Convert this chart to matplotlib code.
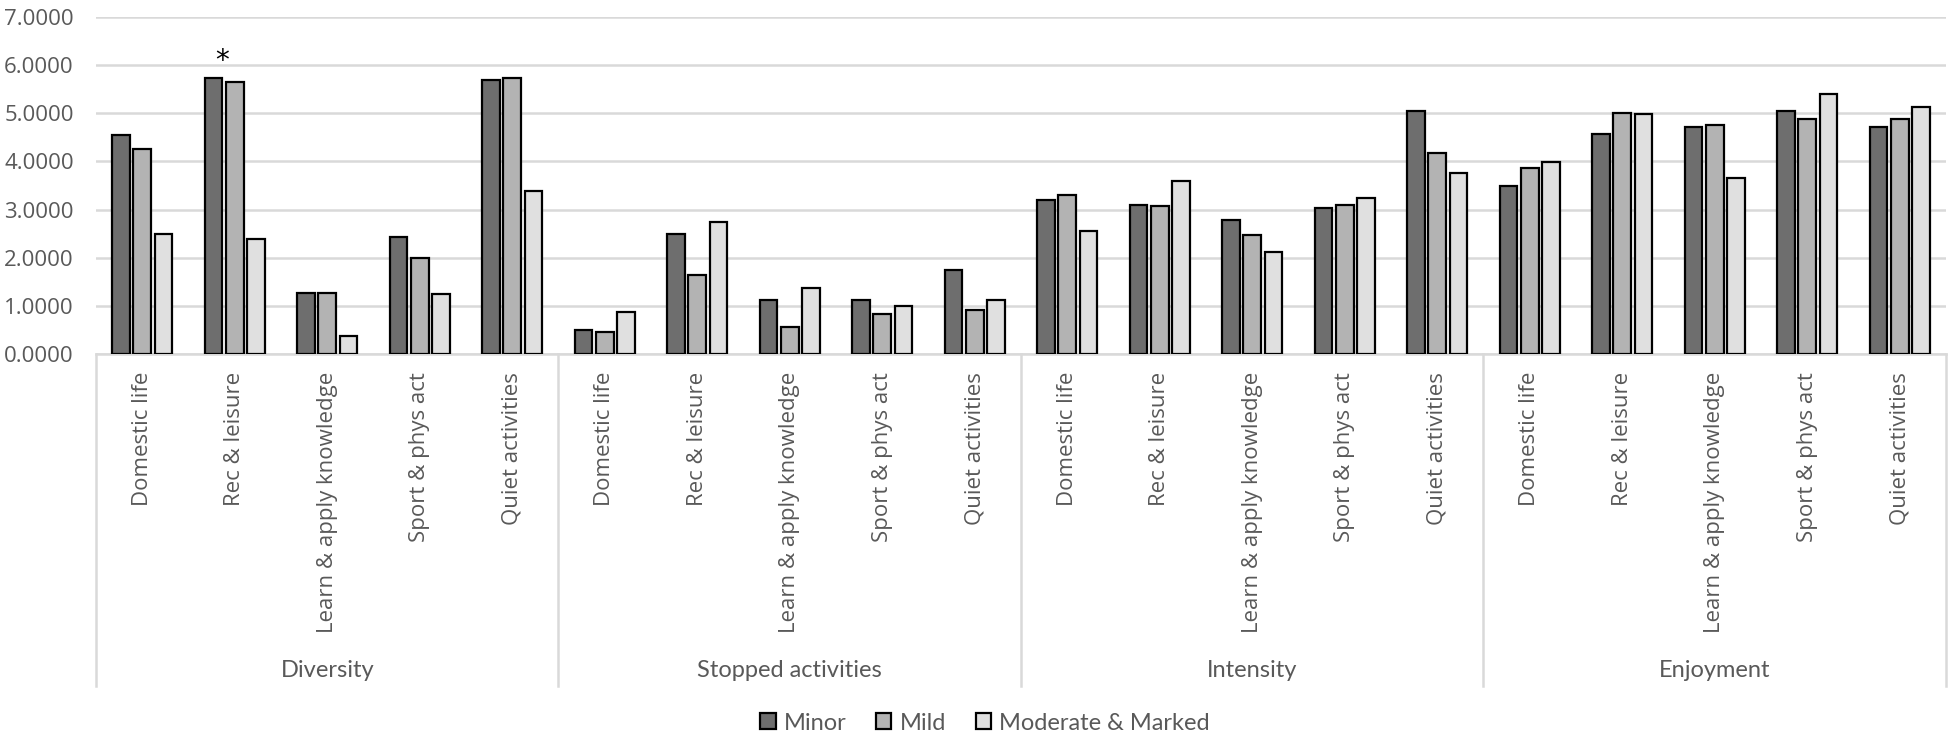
"""Grouped bar chart: activity domains by severity group (Minor / Mild / Moderate & Marked)."""

import matplotlib

matplotlib.use("Agg")
import matplotlib.pyplot as plt
import matplotlib.patches as mpatches
import matplotlib.transforms as mtransforms
import numpy as np

CATEGORIES = [
    "Domestic life",
    "Rec & leisure",
    "Learn & apply knowledge",
    "Sport & phys act",
    "Quiet activities",
]
GROUPS = ["Diversity", "Stopped activities", "Intensity", "Enjoyment"]
SERIES = ["Minor", "Mild", "Moderate & Marked"]

# values per category, groups laid out one after another
MINOR = [4.54, 5.73, 1.26, 2.43, 5.69,
         0.49, 2.50, 1.12, 1.12, 1.75,
         3.19, 3.10, 2.79, 3.04, 5.05,
         3.49, 4.58, 4.72, 5.04, 4.72]
MILD = [4.25, 5.64, 1.27, 2.00, 5.74,
        0.45, 1.65, 0.57, 0.83, 0.92,
        3.30, 3.08, 2.47, 3.10, 4.18,
        3.87, 5.01, 4.76, 4.89, 4.89]
MODERATE = [2.50, 2.38, 0.38, 1.25, 3.38,
            0.87, 2.74, 1.37, 0.99, 1.12,
            2.55, 3.59, 2.12, 3.24, 3.75,
            3.98, 4.99, 3.66, 5.40, 5.13]

Y_TICKS = [0, 1, 2, 3, 4, 5, 6, 7]
STAR_CATEGORY = 1  # Diversity / Rec & leisure

COLORS = ["#6e6e6e", "#b3b3b3", "#e0e0e0"]
TEXT_GREY = "#595959"
LINE_GREY = "#d9d9d9"
SANS = ["Open Sans", "DejaVu Sans"]
NARROW = ["Lato", "DejaVu Sans"]


def main() -> None:
    fig = plt.figure(figsize=(19.49, 7.41), dpi=100)
    ax = fig.add_axes([96 / 1949, 1 - 354 / 741, 1850 / 1949, 337 / 741])

    n_cat = len(CATEGORIES) * len(GROUPS)
    centers = np.arange(n_cat) + 0.5
    step, width = 0.228, 0.19
    for i, (vals, color) in enumerate(zip([MINOR, MILD, MODERATE], COLORS)):
        ax.bar(
            centers + (i - 1) * step,
            vals,
            width=width,
            color=color,
            edgecolor="black",
            linewidth=1.6,
            zorder=3,
        )

    ax.set_xlim(0, n_cat)
    ax.set_ylim(0, 7)
    ax.set_yticks(Y_TICKS)
    ax.set_yticklabels([f"{v:.4f}" for v in Y_TICKS], family=SANS, fontsize=16, color=TEXT_GREY)
    ax.yaxis.grid(True, color=LINE_GREY, linewidth=1.8, zorder=0)
    ax.set_axisbelow(True)
    ax.tick_params(axis="y", length=0, pad=16)
    for side in ("top", "right", "left"):
        ax.spines[side].set_visible(False)
    ax.spines["bottom"].set_color(LINE_GREY)
    ax.spines["bottom"].set_linewidth(1.8)

    ax.set_xticks(centers)
    ax.set_xticklabels(
        CATEGORIES * len(GROUPS), rotation=90, family=SANS, fontsize=16, color=TEXT_GREY
    )
    ax.tick_params(axis="x", length=0, pad=13)

    # group separators and group names below the category labels
    trans = mtransforms.blended_transform_factory(ax.transData, ax.transAxes)
    n_per = len(CATEGORIES)
    for g in range(len(GROUPS) + 1):
        ax.plot(
            [g * n_per, g * n_per], [0, -0.985],
            color=LINE_GREY, linewidth=1.8, transform=trans, clip_on=False,
        )
    for g, name in enumerate(GROUPS):
        ax.text(
            g * n_per + n_per / 2, -0.94, name, transform=trans,
            ha="center", va="center", family=NARROW, fontsize=17, color=TEXT_GREY,
        )

    # significance marker
    ax.text(
        centers[STAR_CATEGORY] - 0.14, 5.91, "*",
        ha="center", va="baseline", fontsize=20, color="black",
    )

    handles = [
        mpatches.Patch(facecolor=c, edgecolor="black", linewidth=1.6, label=s)
        for s, c in zip(SERIES, COLORS)
    ]
    leg = fig.legend(
        handles=handles,
        loc="center",
        bbox_to_anchor=(985 / 1949, 1 - 723 / 741),
        ncol=3,
        frameon=False,
        prop={"family": NARROW, "size": 17},
        handlelength=0.65,
        handleheight=0.65,
        handletextpad=0.35,
        columnspacing=1.25,
    )
    for t in leg.get_texts():
        t.set_color(TEXT_GREY)

    fig.savefig("out.png", dpi=100, facecolor="white")
    plt.close(fig)


if __name__ == "__main__":
    main()
